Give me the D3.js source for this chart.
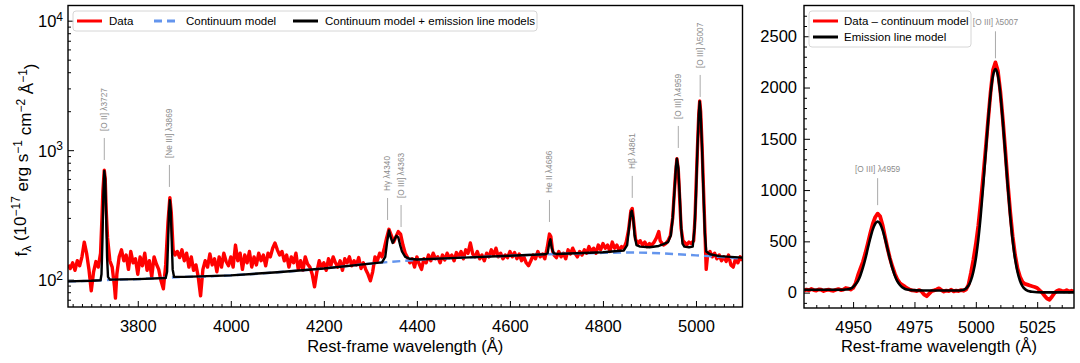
<!DOCTYPE html>
<html>
<head>
<meta charset="utf-8">
<script src="https://cdn.jsdelivr.net/npm/d3@7"></script>
<style>
body { margin: 0; background: #fff; }
svg { font-family: "Liberation Sans", Arial, Helvetica, sans-serif; }
</style>
</head>
<body>
<svg id="chart" width="1080" height="363"></svg>
<script>
///// DATOS //////
// espectro observado [longitud de onda, flujo]
let dataSpec = [
    [3650,130],[3655,122],[3660,135],[3665,118],[3670,140],[3675,128],[3680,150],[3685,195],[3690,160],[3695,120],
    [3700,82],[3705,115],[3710,138],[3715,125],[3720,160],[3723,300],[3725,480],[3728,700],[3730,600],[3732,350],
    [3735,210],[3740,140],[3745,125],[3750,88],[3752,72],[3755,110],[3760,150],[3765,170],[3770,140],[3775,155],
    [3780,120],[3785,165],[3790,135],[3795,145],[3800,110],[3805,150],[3810,128],[3815,160],[3820,118],[3825,140],
    [3830,105],[3835,150],[3840,132],[3845,120],[3850,98],[3855,85],[3860,130],[3865,280],[3869,430],[3872,330],
    [3876,170],[3880,155],[3885,165],[3890,148],[3895,170],[3900,140],[3905,160],[3910,125],[3915,150],[3920,118],
    [3925,130],[3930,105],[3935,75],[3940,120],[3945,140],[3950,125],[3955,158],[3960,130],[3965,145],[3970,115],
    [3975,150],[3980,125],[3985,160],[3990,138],[3995,128],[4000,150],[4005,125],[4010,185],[4015,140],[4020,160],
    [4025,120],[4030,155],[4035,135],[4040,165],[4045,125],[4050,150],[4055,130],[4060,160],[4065,140],[4070,155],
    [4075,128],[4080,160],[4085,150],[4090,175],[4095,192],[4100,170],[4105,155],[4110,165],[4115,140],[4120,155],
    [4125,125],[4130,150],[4135,135],[4140,160],[4145,120],[4150,140],[4155,118],[4160,150],[4165,132],[4170,125],
    [4175,110],[4180,88],[4185,115],[4190,140],[4195,125],[4200,135],[4205,118],[4210,145],[4215,128],[4220,150],
    [4225,135],[4230,125],[4235,140],[4240,118],[4245,145],[4250,135],[4255,150],[4260,128],[4265,140],[4270,130],
    [4275,148],[4280,122],[4285,135],[4290,120],[4295,110],[4300,98],[4305,115],[4310,150],[4315,140],[4320,160],
    [4325,150],[4330,175],[4335,210],[4340,245],[4345,220],[4350,195],[4355,215],[4360,235],[4365,225],[4370,185],
    [4375,160],[4380,148],[4385,135],[4390,145],[4395,125],[4400,150],[4405,132],[4410,120],[4415,145],[4420,135],
    [4425,155],[4430,140],[4435,160],[4440,145],[4445,150],[4450,135],[4455,155],[4460,142],[4465,160],[4470,148],
    [4475,155],[4480,140],[4485,162],[4490,150],[4495,165],[4500,145],[4505,170],[4510,160],[4515,192],[4520,158],
    [4525,150],[4530,165],[4535,145],[4540,155],[4545,140],[4550,160],[4555,150],[4560,170],[4565,155],[4570,175],
    [4575,150],[4580,160],[4585,145],[4590,155],[4595,148],[4600,165],[4605,150],[4610,162],[4615,145],[4620,158],
    [4625,140],[4630,150],[4635,135],[4640,128],[4645,140],[4650,155],[4655,145],[4660,165],[4665,150],[4670,158],
    [4675,145],[4680,175],[4685,225],[4688,215],[4692,165],[4695,155],[4700,148],[4705,165],[4710,150],[4715,160],
    [4720,145],[4725,170],[4730,158],[4735,175],[4740,160],[4745,150],[4750,165],[4755,155],[4760,170],[4765,160],
    [4770,180],[4775,165],[4780,175],[4785,160],[4790,185],[4795,170],[4800,190],[4805,175],[4810,185],[4815,165],
    [4820,195],[4825,175],[4830,185],[4835,168],[4840,180],[4845,175],[4850,195],[4855,240],[4860,340],[4863,355],
    [4866,280],[4870,205],[4875,190],[4880,200],[4885,185],[4890,195],[4895,180],[4900,190],[4905,185],[4910,195],
    [4915,210],[4920,235],[4923,200],[4925,195],[4930,185],[4935,190],[4940,200],[4945,220],[4950,300],[4953,450],
    [4956,650],[4959,860],[4962,700],[4965,420],[4968,250],[4972,200],[4975,195],[4980,185],[4985,195],[4990,190],
    [4995,200],[4998,300],[5000,500],[5003,1000],[5006,1900],[5008,2400],[5010,2000],[5013,1100],[5016,520],[5019,250],
    [5022,120],[5025,155],[5030,165],[5035,150],[5040,160],[5045,145],[5050,155],[5055,140],[5060,150],[5065,138],
    [5070,155],[5075,130],[5080,125],[5085,145],[5090,135],[5095,150],[5100,140]
];

// modelo de continuo
let contModel = [
    [3650,97],[3700,98],[3750,100],[3800,101],[3850,103],[3900,105],[3950,106],[4000,108],[4100,114],[4200,122],
    [4300,133],[4400,142],[4500,148],[4600,153],[4700,158],[4800,161],[4850,162],[4900,161],[4950,158],[5000,154],
    [5050,150],[5100,145]
];

// continuo + líneas de emisión
let fullModel = [
    [3650,97],[3700,98],[3720,99],[3722,110],[3724,200],[3726,450],[3728,690],[3730,600],[3732,320],[3734,150],
    [3736,105],[3740,100],[3800,101],[3860,103],[3863,115],[3865,190],[3867,330],[3869,410],[3871,340],[3873,200],
    [3875,120],[3878,105],[3900,105],[4000,108],[4100,114],[4200,122],[4300,133],[4325,136],[4332,150],[4336,195],
    [4340,240],[4344,210],[4348,192],[4352,205],[4356,218],[4360,212],[4364,185],[4368,165],[4375,150],[4385,145],
    [4400,143],[4500,148],[4600,153],[4676,157],[4681,160],[4685,195],[4687,205],[4690,175],[4694,160],[4700,158],
    [4800,163],[4845,168],[4852,185],[4856,250],[4860,330],[4862,340],[4865,300],[4868,220],[4872,185],[4880,180],
    [4900,178],[4920,182],[4930,188],[4940,195],[4946,220],[4950,300],[4954,500],[4957,750],[4959,860],[4962,730],
    [4965,450],[4968,260],[4971,190],[4975,180],[4985,178],[4993,180],[4997,250],[5000,450],[5003,1000],[5006,1900],
    [5008,2380],[5010,1950],[5013,1050],[5016,480],[5019,230],[5022,165],[5030,157],[5050,152],[5100,148]
];

// etiquetas de líneas (posición, flujo donde termina la marca)
let lineLabels = [
    {txt: '[O II] λ3727', w: 3728, f: 840},
    {txt: '[Ne III] λ3869', w: 3868, f: 520},
    {txt: 'Hγ λ4340', w: 4337, f: 289},
    {txt: '[O III] λ4363', w: 4366, f: 255},
    {txt: 'He II λ4686', w: 4685, f: 279},
    {txt: 'Hβ λ4861', w: 4863, f: 428},
    {txt: '[O III] λ4959', w: 4962, f: 1040},
    {txt: '[O III] λ5007', w: 5009, f: 2577}
];

// panel derecho: datos - continuo
let zoomData = [
    [4930,18],[4931,30],[4932,22],[4933,35],[4934,25],[4935,20],[4936,32],[4937,28],[4938,15],[4939,25],
    [4940,30],[4941,22],[4942,18],[4943,28],[4944,35],[4945,25],[4946,30],[4947,45],[4948,40],[4949,30],
    [4950,45],[4951,90],[4952,170],[4953,235],[4954,300],[4955,385],[4956,480],[4957,580],[4958,670],[4959,735],
    [4960,770],[4961,745],[4962,660],[4963,545],[4964,435],[4965,335],[4966,255],[4967,185],[4968,130],[4969,95],
    [4970,75],[4971,60],[4972,42],[4973,30],[4974,22],[4975,20],[4976,15],[4977,25],[4978,8],[4979,-20],
    [4980,-35],[4981,-10],[4982,15],[4983,22],[4984,30],[4985,42],[4986,25],[4987,10],[4988,20],[4989,15],
    [4990,28],[4991,12],[4992,20],[4993,15],[4994,25],[4995,18],[4996,30],[4997,75],[4998,190],[4999,320],
    [5000,470],[5001,650],[5002,880],[5003,1130],[5004,1400],[5005,1680],[5006,1950],[5007,2170],[5008,2245],[5009,2160],
    [5010,1960],[5011,1690],[5012,1390],[5013,1070],[5014,790],[5015,550],[5016,365],[5017,235],[5018,155],[5019,105],
    [5020,85],[5021,78],[5022,70],[5023,62],[5024,55],[5025,45],[5026,22],[5027,0],[5028,-30],[5029,-58],
    [5030,-70],[5031,-40],[5032,-5],[5033,15],[5034,25],[5035,18],[5036,12],[5037,25],[5038,10],[5039,18],
    [5040,12]
];

// panel derecho: modelo de líneas
let zoomModel = [
    [4930,28],[4935,28],[4940,28],[4945,28],[4947,30],[4948,32],[4949,40],[4950,55],[4951,80],[4952,115],
    [4953,170],[4954,243],[4955,330],[4956,432],[4957,530],[4958,615],[4959,672],[4960,692],[4961,672],[4962,612],
    [4963,527],[4964,428],[4965,330],[4966,238],[4967,166],[4968,112],[4969,77],[4970,52],[4971,38],[4972,30],
    [4974,24],[4976,22],[4980,21],[4985,20],[4990,20],[4993,21],[4994,23],[4995,28],[4996,40],[4997,68],
    [4998,120],[4999,204],[5000,331],[5001,514],[5002,752],[5003,1040],[5004,1356],[5005,1669],[5006,1936],[5007,2117],
    [5008,2180],[5009,2117],[5010,1936],[5011,1669],[5012,1356],[5013,1040],[5014,751],[5015,512],[5016,329],[5017,201],
    [5018,116],[5019,64],[5020,35],[5021,19],[5022,12],[5023,8],[5025,4],[5030,2],[5040,2]
];

let zoomLabels = [
    {txt: '[O III] λ4959', w: 4960, f: 853},
    {txt: '[O III] λ5007', w: 5008, f: 2285}
];

let leftXTicks = [3800, 4000, 4200, 4400, 4600, 4800, 5000];
let leftYTicks = [100, 1000, 10000];
let rightXTicks = [4950, 4975, 5000, 5025];
let rightYTicks = [0, 500, 1000, 1500, 2000, 2500];

///// GRÁFICO //////
let svg = d3.select('#chart');
let labelGrey = '#8c8c8c';
let tickFont = 16.5;

let left = {x0: 68, x1: 742.5, y0: 5.5, y1: 307};
let right = {x0: 804, x1: 1074, y0: 5.5, y1: 308};

let defs = svg.append('defs');
[['clipL', left], ['clipR', right]].forEach(function(c) {
    defs.append('clipPath').attr('id', c[0])
        .append('rect')
        .attr('x', c[1].x0).attr('y', c[1].y0)
        .attr('width', c[1].x1 - c[1].x0).attr('height', c[1].y1 - c[1].y0);
});

leftChart();
rightChart();

function styleAxis(g) {
    g.select('.domain').remove();
    g.selectAll('.tick line').attr('stroke', '#000').attr('stroke-width', 1);
    g.selectAll('.tick text').attr('fill', '#000').style('font-size', tickFont + 'px');
}

function leftChart() {
    let x = d3.scaleLinear().domain([3650, 5100]).range([left.x0, left.x1]);
    let y = d3.scaleLog().domain([61.5, 13100]).range([left.y1, left.y0]);

    //Eje X
    let minorX = d3.range(3660, 5100, 20).filter(d => leftXTicks.indexOf(d) < 0);
    svg.append('g').attr('transform', 'translate(0,' + left.y1 + ')')
        .call(d3.axisBottom(x).tickValues(minorX).tickSize(-3).tickFormat(''))
        .call(styleAxis);
    svg.append('g').attr('transform', 'translate(0,' + left.y1 + ')')
        .call(d3.axisBottom(x).tickValues(leftXTicks).tickSize(-6).tickPadding(13).tickFormat(d3.format('d')))
        .call(styleAxis);

    //Eje Y (log)
    let minorY = [];
    [10, 100, 1000].forEach(function(dec) {
        for (let k = 2; k < 10; k++) minorY.push(dec * k);
    });
    minorY = minorY.filter(d => d > 61.5 && d < 13100);
    svg.append('g').attr('transform', 'translate(' + left.x0 + ',0)')
        .call(d3.axisLeft(y).tickValues(minorY).tickSize(-3).tickFormat(''))
        .call(styleAxis);
    let yAx = svg.append('g').attr('transform', 'translate(' + left.x0 + ',0)')
        .call(d3.axisLeft(y).tickValues(leftYTicks).tickSize(-6).tickPadding(5).tickFormat(''))
        .call(styleAxis);
    yAx.selectAll('.tick text').each(function(d) {
        let t = d3.select(this);
        t.attr('dy', '0.36em');
        t.append('tspan').text('10');
        t.append('tspan').attr('dy', '-0.55em').style('font-size', '12px').text(Math.round(Math.log10(d)));
    });

    //Líneas
    let plot = svg.append('g').attr('clip-path', 'url(#clipL)');
    let line = d3.line().x(d => x(d[0])).y(d => y(d[1]));

    plot.append('path').datum(dataSpec)
        .attr('fill', 'none').attr('stroke', '#ff0000').attr('stroke-width', 3.4)
        .attr('stroke-linejoin', 'round').attr('d', line);
    plot.append('path').datum(contModel)
        .attr('fill', 'none').attr('stroke', '#6495ed').attr('stroke-width', 2.4)
        .attr('stroke-dasharray', '8,5').attr('d', line.curve(d3.curveMonotoneX));
    line.curve(d3.curveLinear);
    plot.append('path').datum(fullModel)
        .attr('fill', 'none').attr('stroke', '#000').attr('stroke-width', 2.4)
        .attr('stroke-linejoin', 'round').attr('d', line);

    //Etiquetas de líneas de emisión
    let lab = svg.append('g').selectAll('g').data(lineLabels).join('g')
        .attr('transform', d => 'translate(' + x(d.w) + ',' + y(d.f) + ')');
    lab.append('line').attr('x1', 0).attr('x2', 0).attr('y1', 0).attr('y2', -22)
        .attr('stroke', '#aaa').attr('stroke-width', 1);
    lab.append('text')
        .attr('transform', 'translate(0,-29) rotate(-90)')
        .attr('dy', '0.35em')
        .attr('fill', labelGrey)
        .style('font-size', '8.3px')
        .text(d => d.txt);

    //Marco
    svg.append('rect')
        .attr('x', left.x0).attr('y', left.y0)
        .attr('width', left.x1 - left.x0).attr('height', left.y1 - left.y0)
        .attr('fill', 'none').attr('stroke', '#000').attr('stroke-width', 1.4);

    //Títulos de ejes
    svg.append('text')
        .attr('x', (left.x0 + left.x1) / 2).attr('y', 352)
        .attr('text-anchor', 'middle').style('font-size', '16.5px')
        .text('Rest-frame wavelength (Å)');

    let yt = svg.append('text')
        .attr('transform', 'translate(27,160) rotate(-90)')
        .attr('text-anchor', 'middle').style('font-size', '17px');
    yt.append('tspan').text('f');
    yt.append('tspan').attr('dy', '0.3em').style('font-size', '12px').text('λ');
    yt.append('tspan').attr('dy', '-0.3em').text(' (10');
    yt.append('tspan').attr('dy', '-0.5em').style('font-size', '12px').text('−17');
    yt.append('tspan').attr('dy', '0.5em').text(' erg s');
    yt.append('tspan').attr('dy', '-0.5em').style('font-size', '12px').text('−1');
    yt.append('tspan').attr('dy', '0.5em').text(' cm');
    yt.append('tspan').attr('dy', '-0.5em').style('font-size', '12px').text('−2');
    yt.append('tspan').attr('dy', '0.5em').text(' Å');
    yt.append('tspan').attr('dy', '-0.5em').style('font-size', '12px').text('−1');
    yt.append('tspan').attr('dy', '0.5em').text(')');

    //Leyenda
    let leg = svg.append('g');
    leg.append('rect').attr('x', 73).attr('y', 11).attr('width', 464).attr('height', 20)
        .attr('rx', 3).attr('fill', '#fff').attr('fill-opacity', 0.8)
        .attr('stroke', '#d6d6d6').attr('stroke-width', 1);
    let items = [
        {txt: 'Data', c: '#ff0000', dash: null, x: 77},
        {txt: 'Continuum model', c: '#6495ed', dash: '8,5', x: 154},
        {txt: 'Continuum model + emission line models', c: '#000', dash: null, x: 293}
    ];
    items.forEach(function(it) {
        leg.append('line').attr('x1', it.x).attr('x2', it.x + 25).attr('y1', 21).attr('y2', 21)
            .attr('stroke', it.c).attr('stroke-width', 3).attr('stroke-dasharray', it.dash);
        leg.append('text').attr('x', it.x + 32).attr('y', 25).style('font-size', '11.5px').text(it.txt);
    });
}

function rightChart() {
    let x = d3.scaleLinear().domain([4930, 5040]).range([right.x0, right.x1]);
    let y = d3.scaleLinear().domain([-150, 2800]).range([right.y1, right.y0]);

    let minorX = d3.range(4935, 5040, 5).filter(d => rightXTicks.indexOf(d) < 0);
    svg.append('g').attr('transform', 'translate(0,' + right.y1 + ')')
        .call(d3.axisBottom(x).tickValues(minorX).tickSize(-3).tickFormat(''))
        .call(styleAxis);
    svg.append('g').attr('transform', 'translate(0,' + right.y1 + ')')
        .call(d3.axisBottom(x).tickValues(rightXTicks).tickSize(-6).tickPadding(13).tickFormat(d3.format('d')))
        .call(styleAxis);

    let minorY = d3.range(-100, 2800, 100).filter(d => rightYTicks.indexOf(d) < 0);
    svg.append('g').attr('transform', 'translate(' + right.x0 + ',0)')
        .call(d3.axisLeft(y).tickValues(minorY).tickSize(-3).tickFormat(''))
        .call(styleAxis);
    svg.append('g').attr('transform', 'translate(' + right.x0 + ',0)')
        .call(d3.axisLeft(y).tickValues(rightYTicks).tickSize(-6).tickPadding(7).tickFormat(d3.format('d')))
        .call(styleAxis);

    let plot = svg.append('g').attr('clip-path', 'url(#clipR)');
    let line = d3.line().x(d => x(d[0])).y(d => y(d[1]));
    plot.append('path').datum(zoomData)
        .attr('fill', 'none').attr('stroke', '#ff0000').attr('stroke-width', 3.8)
        .attr('stroke-linejoin', 'round').attr('d', line);
    plot.append('path').datum(zoomModel)
        .attr('fill', 'none').attr('stroke', '#000').attr('stroke-width', 2.6)
        .attr('stroke-linejoin', 'round').attr('d', line.curve(d3.curveMonotoneX));

    let lab = svg.append('g').selectAll('g').data(zoomLabels).join('g')
        .attr('transform', d => 'translate(' + x(d.w) + ',' + y(d.f) + ')');
    lab.append('line').attr('y1', 0).attr('y2', -27).attr('stroke', '#aaa').attr('stroke-width', 1);
    lab.append('text').attr('y', -33).attr('text-anchor', 'middle')
        .attr('fill', labelGrey).style('font-size', '8.3px').text(d => d.txt);

    svg.append('rect')
        .attr('x', right.x0).attr('y', right.y0)
        .attr('width', right.x1 - right.x0).attr('height', right.y1 - right.y0)
        .attr('fill', 'none').attr('stroke', '#000').attr('stroke-width', 1.4);

    svg.append('text')
        .attr('x', (right.x0 + right.x1) / 2).attr('y', 352)
        .attr('text-anchor', 'middle').style('font-size', '16.5px')
        .text('Rest-frame wavelength (Å)');

    let leg = svg.append('g');
    leg.append('rect').attr('x', 809).attr('y', 11).attr('width', 162).attr('height', 36)
        .attr('rx', 3).attr('fill', '#fff').attr('fill-opacity', 0.8)
        .attr('stroke', '#d6d6d6').attr('stroke-width', 1);
    [{txt: 'Data – continuum model', c: '#ff0000', y: 21},
     {txt: 'Emission line model', c: '#000', y: 37}].forEach(function(it) {
        leg.append('line').attr('x1', 813).attr('x2', 838).attr('y1', it.y).attr('y2', it.y)
            .attr('stroke', it.c).attr('stroke-width', 3);
        leg.append('text').attr('x', 844).attr('y', it.y + 4).style('font-size', '11.5px').text(it.txt);
    });
}
</script>
</body>
</html>
